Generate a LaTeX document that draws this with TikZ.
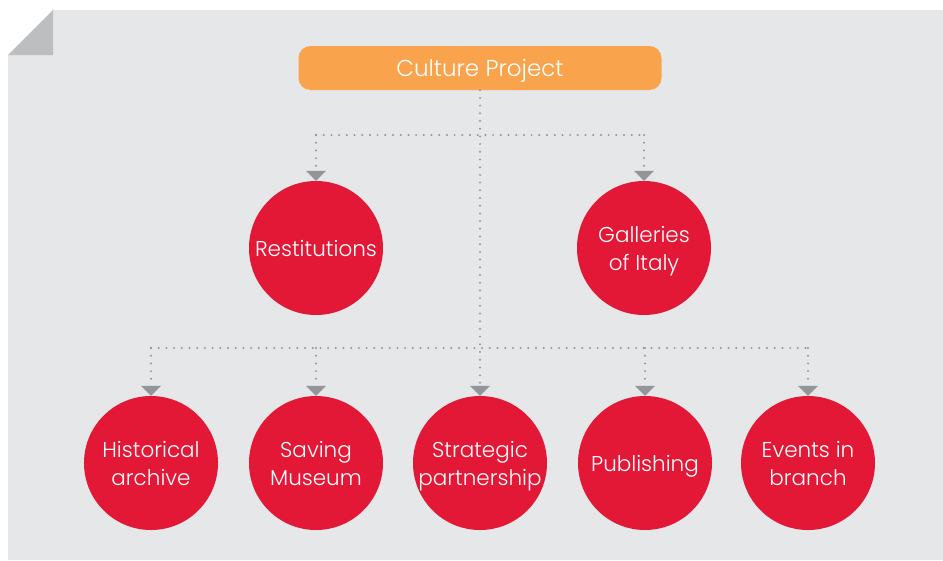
\documentclass[tikz,border=0pt]{standalone}
\usepackage{fontspec}
\setmainfont{Poppins}[UprightFont=* Light]
\usetikzlibrary{arrows.meta}

\definecolor{panelgray}{HTML}{E6E7E9}
\definecolor{foldgray}{HTML}{BDBEC0}
\definecolor{projorange}{HTML}{F9A44C}
\definecolor{unitred}{HTML}{E31837}
\definecolor{linkgray}{HTML}{939598}

\tikzset{
    project/.style={fill=projorange, rounded corners=12pt, minimum width=363pt,
        minimum height=44pt, text=white, text depth=0pt,
        font=\fontsize{23}{26}\selectfont},
    unit/.style={circle, fill=unitred, minimum size=134pt, inner sep=0pt,
        text=white, align=center, text depth=0pt,
        font=\fontsize{21.5}{28}\selectfont},
    link/.style={draw=linkgray, line width=2.2pt, line cap=round,
        dash pattern=on 0pt off 7.7pt},
    arrowed/.style={link, -{Triangle[width=20pt, length=10pt, line width=0pt, fill=linkgray]}}
}

\begin{document}
\begin{tikzpicture}[x=1pt, y=-1pt]
    \useasboundingbox (0,0) rectangle (943,560);

    % --- Panel with folded corner ---
    \fill[panelgray] (53,10) -- (943,10) -- (943,560) -- (8,560) -- (8,55) -- cycle;
    \fill[foldgray] (8,55) -- (53,10) -- (53,55) -- cycle;

    % --- Project ---
    \node[project] (proj) at (480,68) {Culture Project};

    % --- First level ---
    \node[unit] (rest) at (316,248) {Restitutions};
    \node[unit] (gal)  at (644,248) {Galleries\\of Italy};

    % --- Second level ---
    \node[unit] (hist)  at (151,463) {Historical\\archive};
    \node[unit] (save)  at (316,463) {Saving\\Museum};
    \node[unit] (strat) at (480,463) {Strategic\\partnership};
    \node[unit] (publ)  at (645,463) {Publishing};
    \node[unit] (event) at (808,463) {Events in\\branch};

    % Bars
    \coordinate (upbar)  at (480,135);
    \coordinate (lowbar) at (480,348);

    % --- Connectors ---
    \draw[arrowed] (proj.south) -- (strat.north);

    \draw[link] (rest.north |- upbar) -- (gal.north |- upbar);
    \draw[arrowed] (rest.north |- upbar) -- (rest.north);
    \draw[arrowed] (gal.north |- upbar) -- (gal.north);

    \draw[link] (hist.north |- lowbar) -- (event.north |- lowbar);
    \foreach \u in {hist, save, publ, event}
        \draw[arrowed] (\u.north |- lowbar) -- (\u.north);
\end{tikzpicture}
\end{document}
